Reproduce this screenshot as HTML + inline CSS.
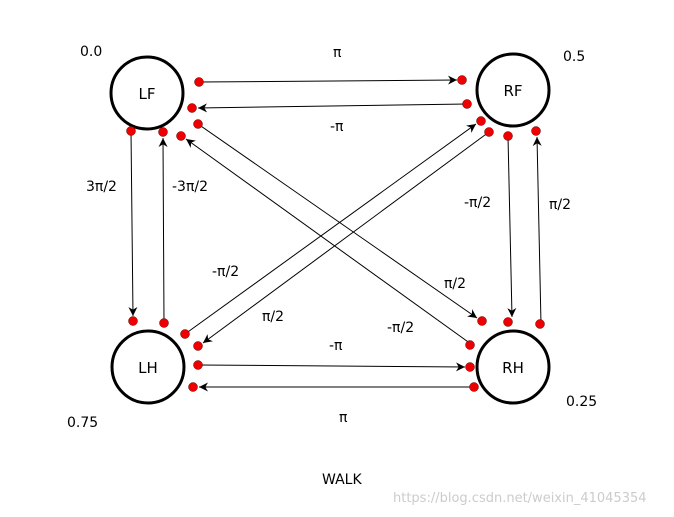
<!DOCTYPE html>
<html><head><meta charset="utf-8"><style>
html,body{margin:0;padding:0;background:#fff;}
svg{display:block;font-family:"DejaVu Sans","Liberation Sans",sans-serif;}
</style></head><body>
<svg width="674" height="517" viewBox="0 0 674 517" xmlns="http://www.w3.org/2000/svg">
<defs>
<marker id="a" viewBox="0 0 10 10" refX="10" refY="5" markerWidth="9" markerHeight="9" orient="auto" markerUnits="userSpaceOnUse">
<path d="M0,0 L10,5 L0,10 L3,5 z" fill="#000"/></marker>
</defs>
<g fill="none" stroke="#000" stroke-width="3">
<circle cx="147" cy="93" r="36"/>
<circle cx="513" cy="90" r="36"/>
<circle cx="148" cy="367" r="36"/>
<circle cx="513" cy="367" r="36"/>
</g>
<g stroke="#000" stroke-width="1" fill="none" marker-end="url(#a)">
<line x1="199" y1="82" x2="457" y2="80"/>
<line x1="467" y1="104" x2="198" y2="108"/>
<line x1="198" y1="124" x2="477" y2="318"/>
<line x1="471" y1="344" x2="186" y2="139"/>
<line x1="131" y1="131" x2="133" y2="316"/>
<line x1="164" y1="323" x2="163" y2="138"/>
<line x1="185" y1="334" x2="476" y2="124"/>
<line x1="489" y1="132" x2="203" y2="343"/>
<line x1="508" y1="136" x2="512" y2="317"/>
<line x1="541" y1="324" x2="537" y2="137"/>
<line x1="198" y1="365" x2="465" y2="367"/>
<line x1="474" y1="387" x2="199" y2="387"/>
</g>
<g fill="#e00" stroke="#600" stroke-width="0.5">
<circle cx="199" cy="82" r="4.5"/><circle cx="192" cy="108" r="4.5"/><circle cx="198" cy="124" r="4.5"/>
<circle cx="131" cy="131" r="4.5"/><circle cx="163" cy="132" r="4.5"/><circle cx="181" cy="136" r="4.5"/>
<circle cx="462" cy="80" r="4.5"/><circle cx="467" cy="104" r="4.5"/><circle cx="481" cy="121" r="4.5"/>
<circle cx="489" cy="132" r="4.5"/><circle cx="508" cy="136" r="4.5"/><circle cx="536" cy="131" r="4.5"/>
<circle cx="133" cy="321" r="4.5"/><circle cx="164" cy="323" r="4.5"/><circle cx="185" cy="334" r="4.5"/>
<circle cx="198" cy="346" r="4.5"/><circle cx="198" cy="365" r="4.5"/><circle cx="193" cy="387" r="4.5"/>
<circle cx="482" cy="321" r="4.5"/><circle cx="508" cy="322" r="4.5"/><circle cx="540" cy="324" r="4.5"/>
<circle cx="470" cy="345" r="4.5"/><circle cx="470" cy="367" r="4.5"/><circle cx="474" cy="387" r="4.5"/>
</g>
<g font-size="15" fill="#000" text-anchor="middle">
<text x="147" y="99">LF</text>
<text x="513" y="96">RF</text>
<text x="148" y="373">LH</text>
<text x="513" y="373">RH</text>
</g>
<g font-size="14" fill="#000">
<text x="80" y="56">0.0</text>
<text x="563" y="61">0.5</text>
<text x="67" y="427">0.75</text>
<text x="566" y="406">0.25</text>
<text x="333" y="57">π</text>
<text x="330" y="131">-π</text>
<text x="86" y="191">3π/2</text>
<text x="172" y="191">-3π/2</text>
<text x="464" y="207">-π/2</text>
<text x="549" y="209">π/2</text>
<text x="212" y="276">-π/2</text>
<text x="262" y="321">π/2</text>
<text x="444" y="288">π/2</text>
<text x="387" y="332">-π/2</text>
<text x="329" y="350">-π</text>
<text x="339" y="422">π</text>
<text x="322" y="484">WALK</text>
</g>
<text x="393" y="502" font-size="13" fill="#ccc">https://blog.csdn.net/weixin_41045354</text>
</svg>
</body></html>
